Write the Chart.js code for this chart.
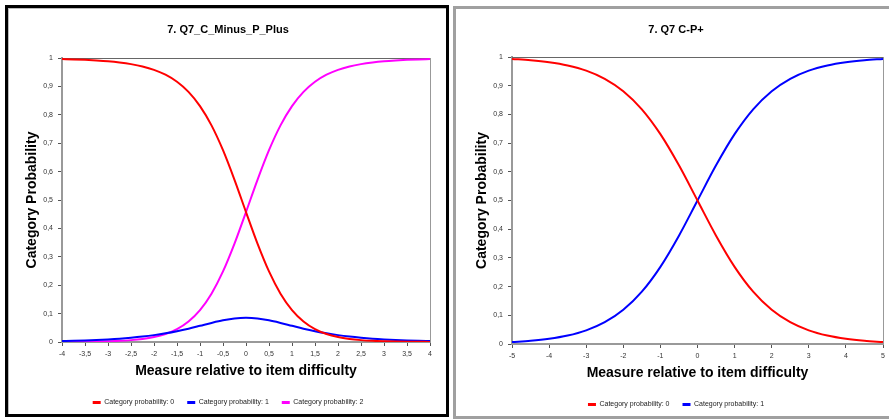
<!DOCTYPE html>
<html>
<head>
<meta charset="utf-8">
<script src="https://cdn.jsdelivr.net/npm/chart.js@4"></script>
<style>
  html, body { margin: 0; padding: 0; background: #fff; }
  body { width: 889px; height: 419px; overflow: hidden; position: relative; }
  .panel { position: absolute; overflow: hidden; background: #fff; }
  #leftPanel { left: 5px; top: 5px; width: 438px; height: 406px; border: 3px solid #000; box-shadow: inset 1px 1px 0 #bbb; }
  #rightPanel { left: 453px; top: 6px; width: 440px; height: 407px; border: 3px solid #a0a0a0; }
  canvas { display: block; }
</style>
</head>
<body>
<div class="panel" id="leftPanel"><canvas id="leftChart" width="438" height="410"></canvas></div>
<div class="panel" id="rightPanel"><canvas id="rightChart" width="433" height="410"></canvas></div>
<script>
// left item: three categories, measure -4..4
const leftTitle = '7. Q7_C_Minus_P_Plus';
const leftX = [-4, -3.75, -3.5, -3.25, -3, -2.75, -2.5, -2.25, -2, -1.75, -1.5, -1.25, -1, -0.75, -0.5, -0.25,
  0, 0.25, 0.5, 0.75, 1, 1.25, 1.5, 1.75, 2, 2.25, 2.5, 2.75, 3, 3.25, 3.5, 3.75, 4];
const leftCat0 = [0.9963, 0.9951, 0.9935, 0.9913, 0.9884, 0.9842, 0.9784, 0.9702, 0.9583, 0.9411, 0.9163, 0.8807,
  0.8306, 0.7627, 0.6753, 0.5709, 0.4574, 0.3463, 0.2484, 0.1702, 0.1124, 0.0723, 0.0456, 0.0284, 0.0176,
  0.0108, 0.0066, 0.0040, 0.0025, 0.0015, 0.0009, 0.0006, 0.0003];
const leftCat1 = [0.0034, 0.0044, 0.0056, 0.0072, 0.0092, 0.0117, 0.0150, 0.0191, 0.0242, 0.0305, 0.0381, 0.0470,
  0.0570, 0.0672, 0.0763, 0.0829, 0.0852, 0.0829, 0.0763, 0.0672, 0.0570, 0.0470, 0.0381, 0.0305, 0.0242,
  0.0191, 0.0150, 0.0117, 0.0092, 0.0072, 0.0056, 0.0044, 0.0034];
const leftCat2 = [0.0003, 0.0006, 0.0009, 0.0015, 0.0025, 0.0040, 0.0066, 0.0108, 0.0176, 0.0284, 0.0456, 0.0723,
  0.1124, 0.1702, 0.2484, 0.3463, 0.4574, 0.5709, 0.6753, 0.7627, 0.8306, 0.8807, 0.9163, 0.9411, 0.9583,
  0.9702, 0.9784, 0.9842, 0.9884, 0.9913, 0.9935, 0.9951, 0.9963];

// right item: two categories, measure -5..5
const rightTitle = '7. Q7 C-P+';
const rightX = [-5, -4.5, -4, -3.5, -3, -2.5, -2, -1.5, -1, -0.5, 0, 0.5, 1, 1.5, 2, 2.5, 3, 3.5, 4, 4.5, 5];
const rightCat0 = [0.9933, 0.9890, 0.9820, 0.9707, 0.9526, 0.9241, 0.8808, 0.8176, 0.7311, 0.6225, 0.5,
  0.3775, 0.2689, 0.1824, 0.1192, 0.0759, 0.0474, 0.0293, 0.0180, 0.0110, 0.0067];
const rightCat1 = [0.0067, 0.0110, 0.0180, 0.0293, 0.0474, 0.0759, 0.1192, 0.1824, 0.2689, 0.3775, 0.5,
  0.6225, 0.7311, 0.8176, 0.8808, 0.9241, 0.9526, 0.9707, 0.9820, 0.9890, 0.9933];

const seriesNames = ['Category probability: 0', 'Category probability: 1', 'Category probability: 2'];
const seriesColors = ['#ff0000', '#0000ff', '#ff00ff'];
const xAxisTitle = 'Measure relative to item difficulty';
const yAxisTitle = 'Category Probability';

const FONT = 'Arial, "Liberation Sans", sans-serif';
Chart.defaults.font.family = FONT;

const comma = v => String(Math.round(v * 10) / 10).replace('.', ',');

function buildChart(id, cfg) {
  const datasets = cfg.series.map((vals, i) => ({
    label: seriesNames[i],
    data: cfg.xs.map((x, j) => ({ x: x, y: vals[j] })),
    borderColor: seriesColors[i],
    backgroundColor: seriesColors[i],
    borderWidth: 2,
    pointRadius: 0,
    fill: false,
    cubicInterpolationMode: 'monotone',
    xAxisID: 'x',
    yAxisID: 'y'
  }));

  new Chart(document.getElementById(id), {
    type: 'line',
    data: { datasets: datasets },
    options: {
      responsive: false,
      animation: false,
      devicePixelRatio: 1,
      layout: { padding: { left: cfg.padLeft, right: cfg.padRight, top: 0, bottom: cfg.padBottom } },
      plugins: {
        title: {
          display: true,
          text: cfg.title,
          color: '#000',
          font: { size: 11, weight: 'bold' },
          padding: { top: cfg.titleTop, bottom: cfg.titleBottom }
        },
        legend: {
          position: 'bottom',
          labels: {
            boxWidth: 8,
            boxHeight: 3,
            padding: 13,
            color: '#222',
            font: { size: 7 },
            generateLabels: chart => Chart.defaults.plugins.legend.labels.generateLabels(chart)
              .map(l => Object.assign(l, { lineWidth: 0 }))
          }
        },
        tooltip: { enabled: false }
      },
      scales: {
        x: {
          type: 'linear',
          position: 'bottom',
          min: cfg.xMin,
          max: cfg.xMax,
          afterFit: s => { s.height = 44; },
          ticks: {
            stepSize: cfg.xStep,
            autoSkip: false,
            maxRotation: 0,
            padding: 4,
            color: '#333',
            font: { size: 7 },
            callback: v => comma(v)
          },
          grid: { drawOnChartArea: false, tickLength: 4, color: '#555' },
          border: { color: '#999', width: 2 },
          title: {
            display: true,
            text: xAxisTitle,
            color: '#000',
            font: { size: 14, weight: 'bold' },
            padding: { top: 0, bottom: 6.6 }
          }
        },
        y: {
          type: 'linear',
          position: 'left',
          min: 0,
          max: 1,
          afterFit: s => { s.width = 46; },
          ticks: {
            stepSize: 0.1,
            padding: 5,
            color: '#333',
            font: { size: 7 },
            callback: v => comma(v)
          },
          grid: { drawOnChartArea: false, tickLength: 4, color: '#555' },
          border: { color: '#999', width: 2 },
          title: {
            display: true,
            text: yAxisTitle,
            color: '#000',
            font: { size: 14, weight: 'bold' },
            padding: { top: 8, bottom: 0 }
          }
        },
        x2: {
          type: 'linear',
          position: 'top',
          min: cfg.xMin,
          max: cfg.xMax,
          afterFit: s => { s.height = 0; },
          ticks: { display: false },
          grid: { drawOnChartArea: false, drawTicks: false },
          border: { color: '#666', width: 1 }
        },
        y2: {
          type: 'linear',
          position: 'right',
          min: 0,
          max: 1,
          afterFit: s => { s.width = cfg.y2Width; },
          ticks: { display: false },
          grid: { drawOnChartArea: false, drawTicks: false },
          border: { color: '#999', width: 1 }
        }
      }
    }
  });
}

buildChart('leftChart', {
  title: leftTitle,
  xs: leftX,
  series: [leftCat0, leftCat1, leftCat2],
  xMin: -4, xMax: 4, xStep: 0.5,
  padLeft: 8, padRight: 6, y2Width: 10, padBottom: 2,
  titleTop: 15.4, titleBottom: 21.4
});

buildChart('rightChart', {
  title: rightTitle,
  xs: rightX,
  series: [rightCat0, rightCat1],
  xMin: -5, xMax: 5, xStep: 1,
  padLeft: 10, padRight: 3, y2Width: 3, padBottom: 1,
  titleTop: 14.4, titleBottom: 20.4
});
</script>
</body>
</html>
